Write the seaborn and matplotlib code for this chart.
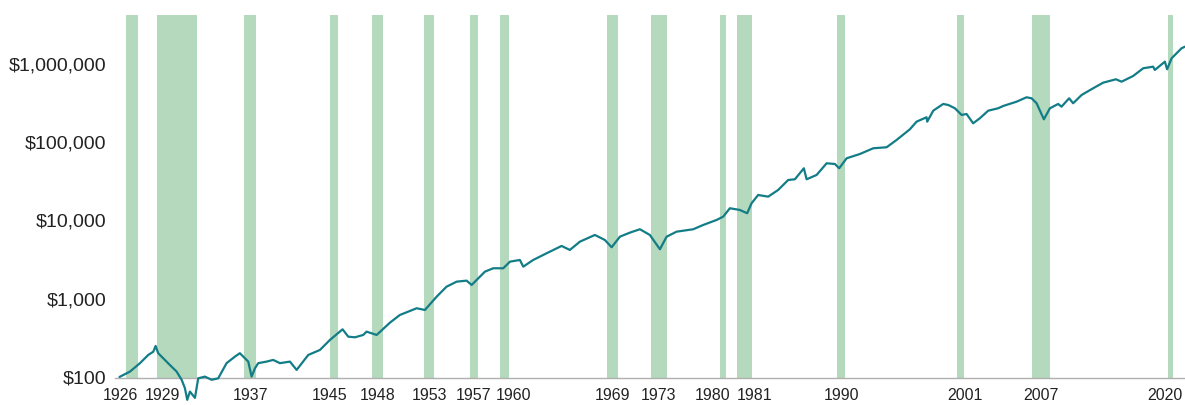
import numpy as np
import pandas as pd
import matplotlib
matplotlib.use("Agg")
import matplotlib.pyplot as plt
import matplotlib.ticker as mticker
import seaborn as sns

# growth of $100 (log scale)
years = [1926.25, 1927.18, 1928.08, 1928.82, 1929.27, 1929.48, 1929.71, 1930.16, 1930.76, 1931.36,
         1931.81, 1932.10, 1932.31, 1932.55, 1933.00, 1933.29, 1933.89, 1934.49, 1935.08, 1935.83,
         1936.58, 1937.02, 1937.47, 1937.77, 1938.07, 1938.37, 1938.66, 1939.41, 1940.00, 1940.60,
         1941.50, 1942.10, 1943.14, 1944.18, 1945.08, 1946.21, 1946.72, 1947.32, 1948.06, 1948.36,
         1949.26, 1950.45, 1951.34, 1952.84, 1953.58, 1954.63, 1955.52, 1956.42, 1957.31, 1957.76,
         1958.95, 1959.69, 1960.59, 1961.19, 1962.08, 1962.38, 1963.27, 1964.47, 1965.81, 1966.55,
         1967.45, 1968.79, 1969.68, 1970.29, 1971.03, 1971.92, 1972.82, 1973.71, 1974.61, 1975.21,
         1976.10, 1977.59, 1978.48, 1979.68, 1980.27, 1980.87, 1981.76, 1982.42, 1982.81, 1983.40,
         1984.30, 1985.19, 1986.09, 1986.69, 1987.49, 1987.74, 1988.63, 1989.53, 1990.27, 1990.65,
         1991.32, 1992.51, 1993.70, 1994.90, 1995.79, 1996.98, 1997.58, 1998.47, 1998.53, 1999.07,
         1999.96, 2000.41, 2001.01, 2001.61, 2002.05, 2002.64, 2003.24, 2003.99, 2004.88, 2005.33,
         2006.53, 2007.42, 2007.87, 2008.32, 2008.97, 2009.51, 2010.25, 2010.55, 2011.23, 2011.59,
         2012.35, 2013.38, 2014.28, 2015.42, 2015.92, 2016.96, 2017.86, 2018.75, 2018.90, 2019.80,
         2020.00, 2020.40, 2021.29, 2021.59]
values = [100, 117, 150, 191, 210, 249, 201, 173, 142, 117,
          92, 72, 51, 65, 54, 96, 101, 92, 96, 150,
          182, 201, 173, 157, 101, 129, 150, 157, 165, 150,
          157, 123, 191, 221, 297, 406, 327, 321, 344, 379,
          344, 494, 619, 754, 717, 1061, 1424, 1649, 1699, 1496,
          2213, 2444, 2444, 2970, 3120, 2563, 3120, 3800, 4713, 4188,
          5346, 6510, 5620, 4535, 6190, 6970, 7700, 6510, 4275, 6190,
          7170, 7700, 8730, 10120, 11150, 14280, 13580, 12330, 16530, 21090,
          20090, 24450, 32800, 33480, 46260, 33480, 38000, 53600, 52500, 46260,
          62100, 70460, 83330, 85880, 106400, 145700, 182300, 207500, 182300, 251800,
          306700, 297800, 270200, 222000, 228600, 173800, 201400, 251800, 270200, 289100,
          328100, 373400, 362400, 313200, 195400, 270200, 306700, 283300, 362400, 313200,
          399700, 486700, 574000, 634000, 590600, 698300, 876300, 918800, 833700, 1064000,
          850600, 1175000, 1577000, 1653000]

# recession periods (start, end) and their labels
rec_start = [1926.8, 1929.6, 1937.4, 1945.1, 1948.85, 1953.5, 1957.6, 1960.3,
             1969.9, 1973.85, 1980.0, 1981.5, 1990.5, 2001.2, 2007.9, 2020.1]
rec_end = [1927.9, 1933.2, 1938.5, 1945.8, 1949.8, 1954.4, 1958.3, 1961.1,
           1970.9, 1975.2, 1980.5, 1982.85, 1991.2, 2001.85, 2009.5, 2020.5]
rec_labels = ['1926', '1929', '1937', '1945', '1948', '1953', '1957', '1960',
              '1969', '1973', '1980', '1981', '1990', '2001', '2007', '2020']

y_ticks = [100, 1000, 10000, 100000, 1000000]

df = pd.DataFrame({'Year': years, 'Value': values})

sns.set_style('white')
plt.rcParams['font.family'] = ['Liberation Sans', 'DejaVu Sans']

fig = plt.figure(figsize=(11.85, 4.05), dpi=100)
ax = fig.add_axes([0.097, 0.0667, 0.903, 0.8963])
ax.set_yscale('log')

band_col = '#b5d9bc'
for s, e in zip(rec_start, rec_end):
    ax.axvspan(s, e, color=band_col, lw=0, zorder=1)

sns.lineplot(data=df, x='Year', y='Value', ax=ax, color='#137d87',
             linewidth=1.6, zorder=3, clip_on=False)

# nudges so crowded labels do not collide
nudge = {'1926': -1.0, '1929': -1.3, '1945': -0.4, '1960': 0.8,
         '1980': -0.9, '1981': 0.9, '2001': 0.4, '2020': -0.5}
xt = [(s + e) / 2 + nudge.get(l, 0) for s, e, l in zip(rec_start, rec_end, rec_labels)]
ax.set_xticks(xt)
ax.set_xticklabels(rec_labels, fontsize=11.5, color='#222222')

ax.set_yticks(y_ticks)
ax.yaxis.set_major_formatter(mticker.FuncFormatter(lambda v, p: '${:,.0f}'.format(v)))
ax.yaxis.set_minor_locator(mticker.NullLocator())
ax.tick_params(axis='y', labelsize=14, length=0, pad=6, labelcolor='#222222')
ax.tick_params(axis='x', length=0, pad=7)

ax.set_xlim(1925.84, 2021.6)
ax.set_ylim(97, 4.2e6)
ax.set_xlabel('')
ax.set_ylabel('')

sns.despine(ax=ax, left=True, top=True, right=True)
ax.spines['bottom'].set_color('#b0b0b0')
ax.spines['bottom'].set_linewidth(1.0)
ax.spines['bottom'].set_zorder(2)

fig.savefig('out.png', dpi=100)
